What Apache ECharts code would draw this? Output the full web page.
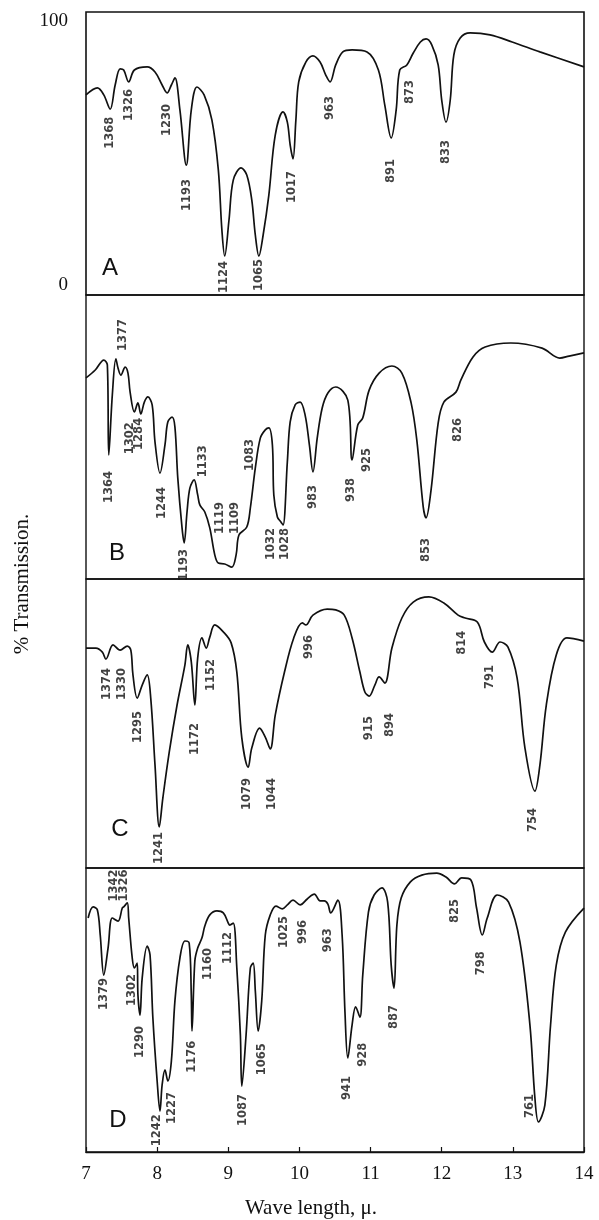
<!DOCTYPE html>
<html>
<head>
<meta charset="utf-8">
<script src="https://cdn.jsdelivr.net/npm/echarts@6/dist/echarts.min.js"></script>
<style>
html,body{margin:0;padding:0;background:#fff;}
#chart{width:599px;height:1220px;}
</style>
</head>
<body>
<div id="chart"></div>
<script>
// Wavelength (micron) vs % transmission
const panelNames = ['A', 'B', 'C', 'D'];
const yTickLabels = ['0', '100'];

const specA = [[7.00,70.7],[7.16,73.2],[7.25,70.7],[7.34,65.7],[7.41,74.2],[7.48,79.9],[7.53,79.5],[7.60,75.3],[7.68,79.5],[7.86,80.6],[7.97,78.8],[8.07,74.2],[8.14,71.4],[8.20,74.2],[8.25,76.7],[8.32,65.4],[8.41,45.9],[8.48,65.4],[8.56,73.5],[8.66,70.7],[8.77,61.8],[8.86,44.2],[8.91,23.0],[8.95,13.8],[9.01,26.5],[9.07,40.6],[9.18,44.9],[9.26,42.4],[9.33,33.6],[9.38,21.2],[9.43,13.8],[9.49,21.2],[9.57,35.3],[9.66,56.5],[9.77,64.7],[9.83,61.1],[9.87,53.0],[9.91,48.1],[9.95,61.8],[9.99,75.3],[10.09,82.3],[10.19,84.5],[10.29,82.3],[10.37,77.7],[10.43,75.3],[10.51,81.3],[10.61,85.9],[10.74,86.6],[10.95,85.9],[11.11,79.5],[11.20,67.1],[11.29,55.5],[11.36,65.4],[11.41,79.5],[11.51,81.3],[11.60,85.5],[11.70,89.4],[11.78,90.5],[11.86,88.4],[11.95,81.3],[12.00,68.9],[12.06,61.1],[12.12,68.9],[12.17,84.8],[12.26,90.8],[12.40,92.6],[12.68,91.9],[12.99,89.4],[13.38,85.9],[14.00,80.6]];

const specB = [[7.00,70.8],[7.13,73.6],[7.25,77.1],[7.30,75.4],[7.32,43.7],[7.37,64.8],[7.42,77.5],[7.45,74.3],[7.49,71.8],[7.55,74.6],[7.59,72.5],[7.62,65.8],[7.68,58.8],[7.73,62.0],[7.77,58.1],[7.82,62.3],[7.87,64.1],[7.93,61.3],[7.97,48.2],[8.04,37.3],[8.11,47.2],[8.15,55.3],[8.21,57.0],[8.25,53.5],[8.29,35.6],[8.35,18.0],[8.38,12.7],[8.42,23.6],[8.46,32.0],[8.52,34.9],[8.57,29.6],[8.60,26.1],[8.67,23.6],[8.74,18.0],[8.81,8.5],[8.86,5.6],[8.95,5.3],[9.05,4.2],[9.11,8.5],[9.15,15.5],[9.26,18.3],[9.31,25.0],[9.38,39.1],[9.45,49.6],[9.52,52.5],[9.57,53.2],[9.62,47.2],[9.64,29.6],[9.69,21.8],[9.74,20.1],[9.77,19.0],[9.83,41.2],[9.87,55.3],[9.94,61.3],[10.01,62.3],[10.08,57.7],[10.14,47.2],[10.19,37.7],[10.25,49.6],[10.32,60.2],[10.40,65.5],[10.51,67.6],[10.68,63.0],[10.74,41.9],[10.82,54.2],[10.89,56.7],[10.98,66.5],[11.12,72.5],[11.30,75.0],[11.44,72.5],[11.57,62.0],[11.65,48.9],[11.74,25.4],[11.78,21.5],[11.85,31.3],[11.95,54.9],[12.03,62.3],[12.20,65.8],[12.27,70.1],[12.44,78.2],[12.61,81.7],[12.97,83.1],[13.41,81.3],[13.66,77.8],[13.79,78.5],[14.00,79.6]];

const specC = [[7.00,76.1],[7.14,76.1],[7.23,74.7],[7.28,72.3],[7.38,77.2],[7.48,75.4],[7.58,76.8],[7.63,75.4],[7.66,66.8],[7.72,58.8],[7.79,63.3],[7.86,66.8],[7.91,58.8],[7.97,35.6],[8.03,14.2],[8.08,24.2],[8.17,40.1],[8.28,56.4],[8.39,70.2],[8.43,77.2],[8.48,71.3],[8.53,56.4],[8.57,72.7],[8.63,79.6],[8.69,76.1],[8.74,79.9],[8.81,84.1],[8.93,81.7],[9.04,77.9],[9.12,67.8],[9.19,45.0],[9.28,34.9],[9.33,41.5],[9.44,48.4],[9.52,45.3],[9.59,41.2],[9.66,52.9],[9.79,67.8],[9.92,79.6],[10.04,84.8],[10.09,84.1],[10.19,87.5],[10.39,89.6],[10.51,89.3],[10.63,87.5],[10.74,79.6],[10.85,67.8],[10.92,60.9],[10.98,59.5],[11.06,63.3],[11.12,66.1],[11.20,64.0],[11.30,76.1],[11.44,86.5],[11.60,92.0],[11.82,93.8],[12.03,91.7],[12.23,87.5],[12.33,86.5],[12.50,85.1],[12.60,78.2],[12.71,74.7],[12.82,78.2],[12.93,76.5],[13.06,65.7],[13.17,41.5],[13.31,26.6],[13.38,35.6],[13.47,56.4],[13.61,73.7],[13.76,79.6],[14.00,78.5]];

const specD = [[7.03,82.4],[7.10,86.3],[7.16,85.2],[7.20,76.4],[7.25,62.3],[7.31,71.8],[7.37,82.4],[7.45,81.3],[7.51,85.9],[7.53,86.3],[7.58,87.7],[7.60,82.4],[7.65,68.3],[7.68,64.8],[7.72,66.5],[7.73,55.3],[7.76,48.2],[7.79,61.3],[7.86,72.5],[7.90,69.4],[7.94,47.2],[8.00,25.0],[8.04,14.4],[8.07,23.6],[8.11,28.9],[8.15,25.0],[8.20,32.0],[8.25,53.2],[8.32,68.3],[8.39,74.3],[8.45,73.6],[8.48,55.3],[8.49,42.6],[8.53,67.3],[8.57,71.8],[8.63,75.4],[8.67,79.6],[8.74,83.5],[8.84,84.9],[8.93,84.2],[9.00,80.6],[9.02,79.9],[9.07,80.6],[9.12,64.8],[9.17,41.2],[9.19,23.2],[9.25,41.2],[9.31,64.8],[9.35,66.5],[9.38,56.7],[9.42,42.6],[9.47,53.2],[9.52,76.4],[9.59,83.5],[9.67,86.6],[9.76,85.6],[9.83,87.0],[9.91,88.7],[10.01,87.0],[10.11,89.1],[10.21,90.8],[10.29,88.4],[10.35,88.4],[10.40,87.3],[10.44,84.2],[10.54,88.7],[10.60,76.4],[10.64,49.3],[10.68,33.1],[10.74,44.7],[10.79,51.1],[10.85,47.5],[10.89,62.3],[10.97,84.5],[11.05,90.5],[11.16,93.0],[11.24,88.0],[11.29,65.8],[11.33,57.7],[11.37,79.9],[11.43,89.4],[11.56,95.1],[11.72,97.5],[11.93,98.2],[12.06,96.8],[12.18,94.4],[12.28,96.5],[12.41,95.8],[12.49,85.9],[12.57,76.4],[12.64,82.4],[12.78,90.5],[12.94,88.0],[13.10,73.9],[13.24,44.7],[13.31,19.0],[13.36,10.6],[13.45,16.5],[13.53,44.7],[13.61,65.8],[13.74,77.5],[14.00,85.9]];

// Band labels (wavenumber, cm-1) at [wavelength, transmission]
const bandsA = [[7.34,57.3,'1368'],[7.60,67.1,'1326'],[8.14,61.8,'1230'],[8.42,35.3,'1193'],[8.94,6.4,'1124'],[9.43,7.1,'1065'],[9.90,38.2,'1017'],[10.43,66.1,'963'],[11.29,43.8,'891'],[11.56,71.7,'873'],[12.06,50.5,'833']];
const bandsB = [[7.52,85.9,'1377'],[7.32,32.4,'1364'],[7.62,49.6,'1302'],[7.74,51.1,'1284'],[8.07,26.8,'1244'],[8.38,4.9,'1193'],[8.65,41.5,'1133'],[8.88,21.5,'1119'],[9.10,21.5,'1109'],[9.31,43.7,'1083'],[9.60,12.3,'1032'],[9.80,12.3,'1028'],[10.19,28.9,'983'],[10.73,31.3,'938'],[10.95,41.9,'925'],[11.78,10.2,'853'],[12.23,52.5,'826']];
const bandsC = [[7.29,63.7,'1374'],[7.51,63.7,'1330'],[7.73,48.8,'1295'],[8.03,6.9,'1241'],[8.53,44.6,'1172'],[8.76,66.8,'1152'],[9.26,25.6,'1079'],[9.62,25.6,'1044'],[10.14,76.5,'996'],[10.98,48.4,'915'],[11.27,49.5,'894'],[12.28,77.9,'814'],[12.68,66.1,'791'],[13.28,16.6,'754']];
const bandsD = [[7.40,93.8,'1342'],[7.53,93.8,'1326'],[7.25,55.6,'1379'],[7.65,57.0,'1302'],[7.76,38.7,'1290'],[8.00,7.7,'1242'],[8.21,15.5,'1227'],[8.49,33.5,'1176'],[8.72,66.2,'1160'],[9.00,71.8,'1112'],[9.21,14.8,'1087'],[9.47,32.7,'1065'],[9.78,77.5,'1025'],[10.05,77.5,'996'],[10.40,74.6,'963'],[10.67,22.5,'941'],[10.89,34.2,'928'],[11.33,47.5,'887'],[12.19,84.9,'825'],[12.55,66.5,'798'],[13.24,16.2,'761']];

const spectra = [specA, specB, specC, specD];
const bands = [bandsA, bandsB, bandsC, bandsD];

const chart = echarts.init(document.getElementById('chart'), null, {renderer: 'canvas'});

const gridTops = [12, 295, 579, 868];
const gridHeights = [283, 284, 289, 284];
const letterPos = [[110, 268], [117, 553], [120, 829], [118, 1120]];

const grids = [], xAxes = [], yAxes = [], series = [], graphics = [];
for (let i = 0; i < 4; i++) {
  grids.push({
    left: 86, width: 498, top: gridTops[i], height: gridHeights[i],
    show: true, borderColor: '#111', borderWidth: i === 0 ? 1.6 : 1.4, backgroundColor: 'transparent',
    containLabel: false, outerBoundsMode: 'none'
  });
  const isBottom = i === 3;
  xAxes.push({
    type: 'value', gridIndex: i, min: 7, max: 14, interval: 1,
    show: true,
    axisLine: {show: isBottom, onZero: false, lineStyle: {color: '#111', width: 1.4}},
    axisTick: {show: isBottom, inside: true, length: 5, lineStyle: {color: '#111', width: 1.2}},
    axisLabel: {show: isBottom, margin: 13, color: '#111', fontSize: 19, fontFamily: '"Liberation Serif", serif'},
    splitLine: {show: false}
  });
  const isTop = i === 0;
  yAxes.push({
    type: 'value', gridIndex: i, min: 0, max: 100, interval: 100,
    axisLine: {show: false}, axisTick: {show: false},
    splitLine: {show: false},
    axisLabel: {
      show: isTop, margin: 18, color: '#111', fontSize: 19, fontFamily: '"Liberation Serif", serif',
      verticalAlignMaxLabel: 'top', verticalAlignMinLabel: 'bottom',
      formatter: function (v) { return v === 0 ? yTickLabels[0] : (v === 100 ? yTickLabels[1] : ''); }
    }
  });
  series.push({
    type: 'line', xAxisIndex: i, yAxisIndex: i, data: spectra[i],
    showSymbol: false, smooth: 0.35, silent: true,
    lineStyle: {color: '#111', width: 1.7}
  });
  series.push({
    type: 'scatter', xAxisIndex: i, yAxisIndex: i, symbolSize: 0, silent: true,
    data: bands[i].map(function (d) { return {value: [d[0], d[1]], name: d[2]}; }),
    label: {
      show: true, position: 'inside', rotate: 90, formatter: '{b}',
      color: '#111', fontSize: 11.5, fontWeight: 'bold',
      fontFamily: '"DejaVu Sans", sans-serif'
    }
  });
  graphics.push({
    type: 'text', x: letterPos[i][0], y: letterPos[i][1],
    style: {text: panelNames[i], textAlign: 'center', textVerticalAlign: 'middle',
      font: '24px "Liberation Sans", sans-serif', fill: '#111'}
  });
}

graphics.push({
  type: 'text', x: 22, y: 584, rotation: Math.PI / 2,
  style: {text: '% Transmission.', textAlign: 'center', textVerticalAlign: 'middle',
    font: '21px "Liberation Serif", serif', fill: '#111'}
});
graphics.push({
  type: 'text', x: 311, y: 1208,
  style: {text: 'Wave length, \u03bc.', textAlign: 'center', textVerticalAlign: 'middle',
    font: '21px "Liberation Serif", serif', fill: '#111'}
});

chart.setOption({
  backgroundColor: '#fff',
  animation: false,
  grid: grids, xAxis: xAxes, yAxis: yAxes, series: series,
  graphic: graphics
});
</script>
</body>
</html>
